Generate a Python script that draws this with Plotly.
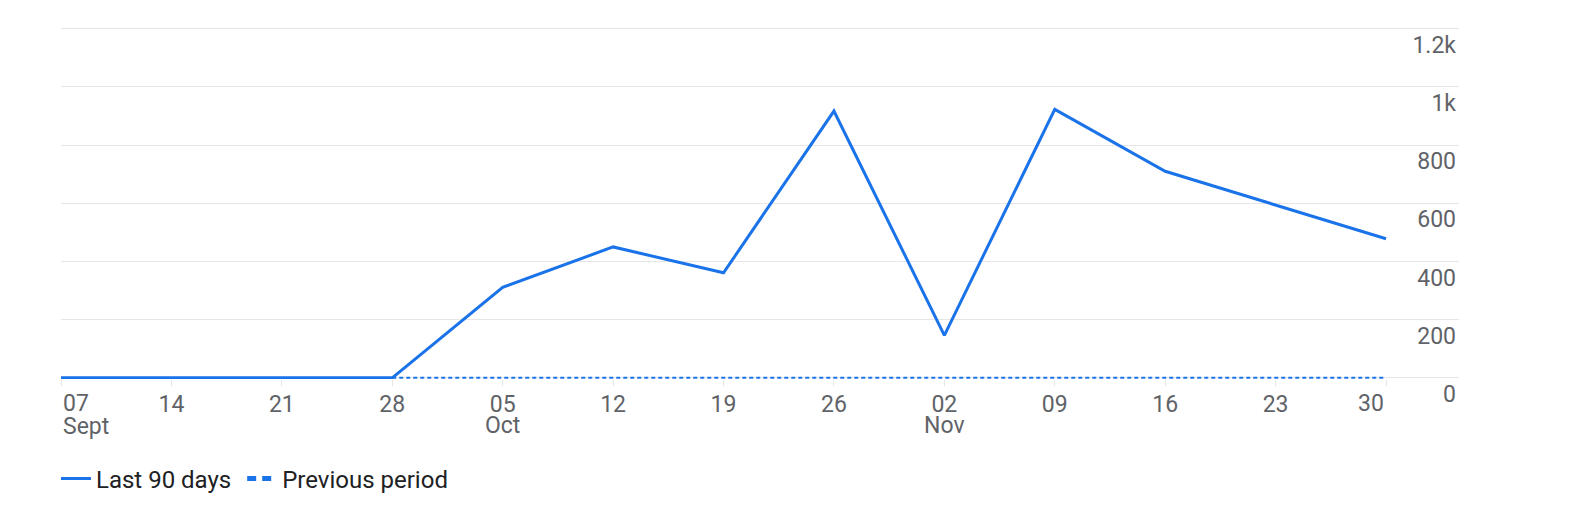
import plotly.graph_objects as go

# weekly data (week starting dates)
weeks = ["2025-09-07", "2025-09-14", "2025-09-21", "2025-09-28", "2025-10-05",
         "2025-10-12", "2025-10-19", "2025-10-26", "2025-11-02", "2025-11-09",
         "2025-11-16", "2025-11-23", "2025-11-30"]
last_90_days = [0, 0, 0, 0, 311, 450, 361, 917, 146, 923, 710, 594, 478]
previous_period = [None, None, None, 0, 0, 0, 0, 0, 0, 0, 0, 0, 0]

day_labels = ["07", "14", "21", "28", "05", "12", "19", "26", "02", "09", "16", "23", "30"]
month_dates = ["2025-09-07", "2025-10-05", "2025-11-02"]
month_labels = ["Sept", "Oct", "Nov"]
y_vals = [0, 200, 400, 600, 800, 1000, 1200]
y_labels = ["0", "200", "400", "600", "800", "1k", "1.2k"]

blue = "#1a73e8"
grid = "#e6e6e6"
label_grey = "#5f6368"
fsize = 23

fig = go.Figure()
fig.add_trace(go.Scatter(x=weeks, y=last_90_days, mode="lines", name="Last 90 days\u00a0",
                         line=dict(color=blue, width=3)))
fig.add_trace(go.Scatter(x=weeks, y=previous_period, mode="lines", name="Previous period",
                         line=dict(color=blue, width=2, dash="4px,3px"), showlegend=False,
                         xaxis="x2"))
# legend entry for the previous period, drawn with bolder dashes like the original
fig.add_trace(go.Scatter(x=[None], y=[None], mode="lines", name="Previous period",
                         line=dict(color=blue, width=5, dash="9px,6px")))

# first and last tick labels hug the chart edges
day_text = [""] + day_labels[1:-1] + [""]
month_text = [""] + month_labels[1:]
edge_font = dict(size=fsize, color=label_grey)
fig.add_annotation(x=weeks[0], y=0, xref="x", yref="paper", text=day_labels[0],
                   showarrow=False, xanchor="left", yanchor="middle", yshift=-24, font=edge_font)
fig.add_annotation(x=month_dates[0], y=0, xref="x", yref="paper", text=month_labels[0],
                   showarrow=False, xanchor="left", yanchor="middle", yshift=-47, font=edge_font)
fig.add_annotation(x=weeks[-1], y=0, xref="x", yref="paper", text=day_labels[-1],
                   showarrow=False, xanchor="right", yanchor="middle", yshift=-24, font=edge_font)

# little break in the grid between plot and value labels
fig.add_shape(type="rect", xref="paper", yref="paper", x0=0.9492, x1=0.955, y0=-0.01, y1=1.01,
              fillcolor="white", line_width=0, layer="between")

fig.update_layout(
    width=1570, height=514,
    margin=dict(l=53, r=119, t=19.3, b=142.8, autoexpand=False),
    plot_bgcolor="white", paper_bgcolor="white",
    font=dict(family="Roboto", size=fsize, color=label_grey),
    showlegend=True,
    legend=dict(orientation="h", x=-0.0036, y=-0.2836, xanchor="left", yanchor="middle",
                font=dict(size=24, color="#202124"), itemwidth=30),
    xaxis=dict(
        range=["2025-09-07", "2025-12-04 15:00"], automargin=False,
        tickvals=weeks, ticktext=day_text,
        showgrid=False, zeroline=False, showline=False,
        ticks="outside", ticklen=6, tickcolor=grid, tickwidth=1,
        ticklabelstandoff=-2,
        tickfont=dict(size=fsize, color=label_grey),
    ),
    xaxis2=dict(
        overlaying="x", anchor="y", side="bottom", matches="x", automargin=False,
        tickvals=month_dates, ticktext=month_text,
        showgrid=False, zeroline=False, showline=False, ticks="",
        ticklabelstandoff=30,
        tickfont=dict(size=fsize, color=label_grey),
    ),
    yaxis=dict(
        side="right", range=[-4, 1206], automargin=False,
        tickvals=y_vals, ticktext=y_labels,
        ticklabelposition="inside bottom", ticklabeloverflow="allow",
        showgrid=True, gridcolor=grid, gridwidth=1,
        zeroline=False, showline=False,
        tickfont=dict(size=fsize, color=label_grey),
    ),
)

fig.write_html("out.html")
